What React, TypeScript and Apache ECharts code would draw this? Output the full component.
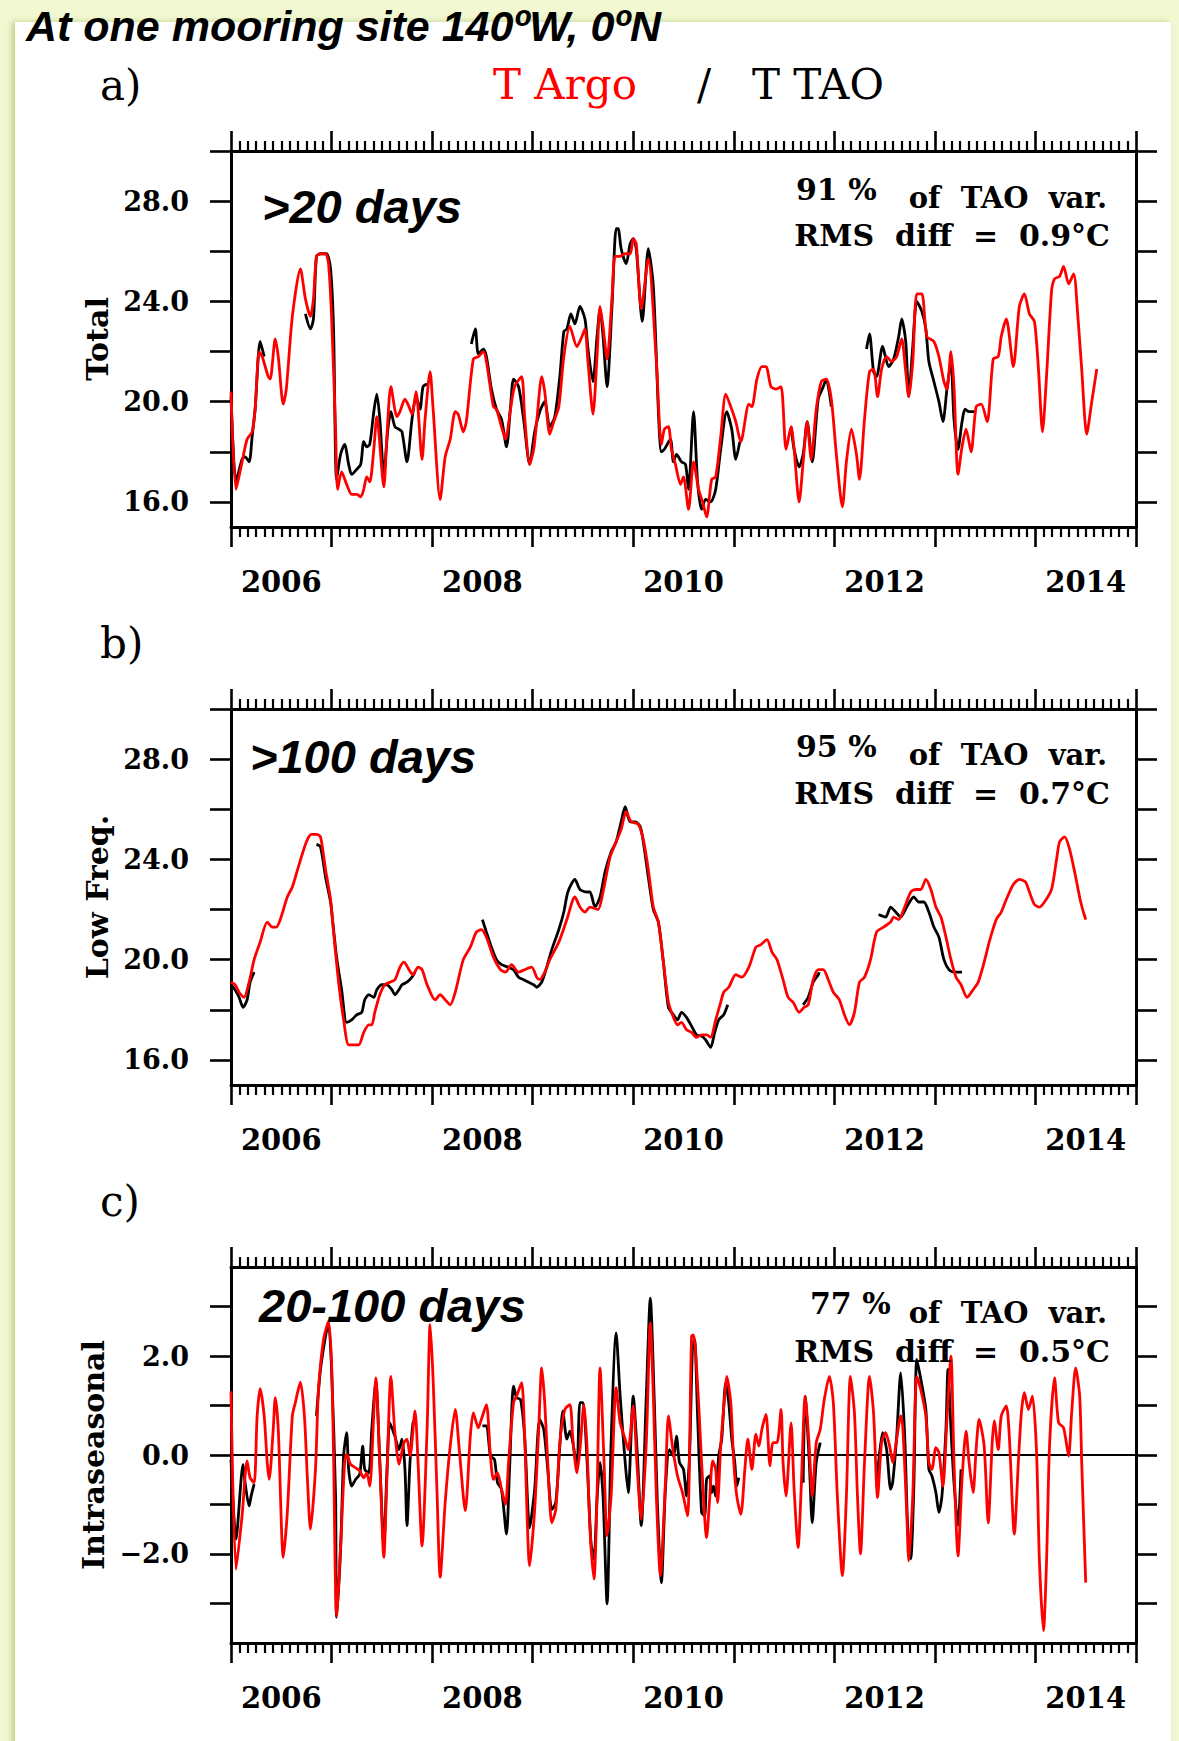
import React, { useEffect, useRef } from 'react';
import * as echarts from 'echarts';

type P = [number, number];

// ---------- axes ----------
const X_MIN = 2006;
const X_MAX = 2015;
const yearLabelAt = [2006.5, 2008.5, 2010.5, 2012.5, 2014.5];
const tempTicks = [16, 18, 20, 22, 24, 26, 28, 30];
const tempLabels = [16, 20, 24, 28];
const isoTicks = [-3, -2, -1, 0, 1, 2, 3];
const isoLabels = [-2, 0, 2];

// ---------- panel a : >20 days (Total) ----------
const argoTotal: P[] = [
  [2006.00,20.4],[2006.05,16.5],[2006.11,17.6],[2006.16,18.5],[2006.21,18.8],[2006.24,19.7],[2006.28,22.0],[2006.31,21.8],[2006.37,21.0],[2006.39,20.9],[2006.44,22.5],[2006.47,21.8],[2006.52,19.9],[2006.55,20.5],[2006.61,23.4],[2006.69,25.3],[2006.74,24.1],[2006.79,23.4],[2006.82,24.1],[2006.85,25.8],[2006.89,25.9],[2006.94,25.9],[2006.97,25.5],[2007.00,23.4],[2007.04,18.9],[2007.06,16.5],[2007.10,17.2],[2007.15,16.7],[2007.20,16.3],[2007.25,16.3],[2007.29,16.2],[2007.32,16.5],[2007.35,17.0],[2007.38,16.8],[2007.42,18.1],[2007.45,19.4],[2007.52,16.6],[2007.55,18.6],[2007.59,20.6],[2007.65,19.4],[2007.68,19.6],[2007.73,20.1],[2007.77,19.8],[2007.80,19.5],[2007.84,20.4],[2007.90,17.7],[2007.93,19.3],[2007.98,21.2],[2008.01,19.7],[2008.08,16.1],[2008.13,17.8],[2008.18,18.5],[2008.23,19.6],[2008.26,19.5],[2008.31,18.8],[2008.34,19.2],[2008.41,21.7],[2008.46,21.8],[2008.51,22.0],[2008.54,21.6],[2008.61,19.8],[2008.64,19.7],[2008.69,19.0],[2008.73,18.5],[2008.78,19.7],[2008.82,20.6],[2008.89,21.0],[2008.92,19.4],[2008.97,17.5],[2009.01,18.1],[2009.04,19.2],[2009.09,21.0],[2009.12,20.4],[2009.17,18.7],[2009.21,19.2],[2009.26,19.8],[2009.31,21.8],[2009.37,23.0],[2009.44,22.2],[2009.49,22.6],[2009.52,22.9],[2009.55,21.6],[2009.60,19.5],[2009.64,21.8],[2009.67,23.8],[2009.70,23.0],[2009.74,21.7],[2009.79,24.2],[2009.82,25.8],[2009.87,25.8],[2009.92,25.9],[2009.97,25.9],[2010.00,26.5],[2010.03,26.3],[2010.08,23.7],[2010.15,25.7],
  [2010.23,21.6],[2010.28,18.3],[2010.31,18.9],[2010.35,19.0],[2010.38,18.1],[2010.42,17.5],[2010.47,16.7],[2010.50,17.0],[2010.55,15.7],[2010.60,17.6],[2010.65,16.5],[2010.69,16.0],[2010.73,15.4],[2010.78,16.9],[2010.82,17.0],[2010.87,18.6],[2010.92,20.3],[2010.97,19.8],[2011.02,19.2],[2011.07,18.4],[2011.15,19.9],[2011.18,19.8],[2011.23,20.9],[2011.28,21.4],[2011.32,21.4],[2011.37,20.6],[2011.42,20.5],[2011.47,20.6],[2011.52,18.1],[2011.57,19.0],[2011.60,18.1],[2011.65,16.0],[2011.69,17.6],[2011.73,19.2],[2011.77,17.7],[2011.82,19.7],[2011.87,20.8],[2011.92,20.9],[2011.97,20.1],[2012.02,17.9],[2012.08,15.8],[2012.12,17.6],[2012.17,18.9],[2012.22,17.9],[2012.25,16.9],[2012.30,19.3],[2012.35,21.2],[2012.39,21.3],[2012.43,20.2],[2012.47,21.3],[2012.52,21.8],[2012.57,21.6],[2012.62,21.8],[2012.67,22.5],[2012.71,21.2],[2012.74,20.2],[2012.78,21.6],[2012.82,24.3],[2012.87,24.3],[2012.92,22.6],[2012.99,22.4],[2013.04,21.8],[2013.09,20.8],[2013.12,20.5],[2013.16,22.0],[2013.19,20.6],[2013.23,17.1],[2013.27,18.2],[2013.31,18.9],[2013.36,18.0],[2013.41,19.8],[2013.46,19.9],[2013.52,19.2],[2013.58,21.7],[2013.63,21.8],[2013.66,22.6],[2013.71,23.3],[2013.78,21.4],[2013.84,23.8],[2013.89,24.3],[2013.94,23.5],[2013.99,23.2],[2014.03,21.3],[2014.07,18.8],[2014.11,21.0],[2014.16,24.4],[2014.19,24.9],[2014.24,25.0],[2014.28,25.4],[2014.33,24.7],[2014.38,25.1],[2014.42,23.5],[2014.46,21.3],[2014.51,18.7],[2014.56,20.0],[2014.61,21.3],
];

const taoTotal: P[][] = [
  [[2006.00,20.2],[2006.05,16.8],[2006.11,17.7],[2006.14,17.8],[2006.18,17.6],[2006.21,18.6],[2006.24,19.7],[2006.29,22.4],[2006.33,21.8]],
  [[2006.74,23.5],[2006.79,22.9],[2006.82,23.3],[2006.85,25.8],[2006.89,25.9],[2006.95,25.9],[2006.99,25.3],[2007.02,22.9],[2007.05,16.9],[2007.09,17.9],[2007.13,18.3],[2007.17,17.5],[2007.20,17.1],[2007.25,17.3],[2007.29,17.5],[2007.32,18.4],[2007.35,18.2],[2007.38,18.3],[2007.42,19.6],[2007.45,20.3],[2007.48,19.3],[2007.52,17.1],[2007.56,18.9],[2007.59,19.6],[2007.63,19.0],[2007.67,18.9],[2007.70,18.8],[2007.75,17.6],[2007.80,19.3],[2007.84,20.2],[2007.88,19.7],[2007.91,20.6],[2007.95,20.7]],
  [[2008.39,22.3],[2008.43,22.9],[2008.46,21.9],[2008.51,22.1],[2008.54,21.8],[2008.59,20.5],[2008.64,19.7],[2008.69,19.3],[2008.74,18.2],[2008.78,19.8],[2008.81,20.9],[2008.86,20.6],[2008.91,19.3],[2008.97,17.5],[2009.02,18.8],[2009.07,19.6],[2009.12,20.0],[2009.17,19.0],[2009.22,19.4],[2009.27,21.0],[2009.31,22.8],[2009.34,22.9],[2009.38,23.5],[2009.42,23.1],[2009.47,23.8],[2009.52,23.3],[2009.55,22.1],[2009.60,20.8],[2009.64,22.6],[2009.67,23.7],[2009.70,22.6],[2009.74,20.6],[2009.79,23.9],[2009.83,26.9],[2009.85,26.9],[2009.88,26.1],[2009.93,25.5],[2009.97,26.3],[2010.00,26.5],[2010.03,26.1],[2010.09,23.2],[2010.15,26.1],[2010.20,24.6],[2010.28,18.0],[2010.31,18.1],[2010.37,18.5],[2010.40,17.6],[2010.43,17.9],[2010.48,17.6],[2010.52,17.5],[2010.55,16.5],[2010.60,19.6],[2010.64,16.8],[2010.68,15.7],[2010.72,16.1],[2010.77,16.0],[2010.82,16.5],[2010.87,18.1],[2010.93,19.6],[2010.98,18.9],[2011.02,17.7],[2011.06,18.4]],
  [[2011.57,19.0],[2011.60,18.1],[2011.65,17.4],[2011.69,17.9],[2011.73,19.2],[2011.78,17.6],[2011.84,20.1],[2011.89,20.6],[2011.92,20.9],[2011.97,19.8]],
  [[2012.32,22.1],[2012.35,22.7],[2012.39,21.2],[2012.42,21.0],[2012.48,22.2],[2012.54,21.4],[2012.59,21.7],[2012.64,22.6],[2012.67,23.3],[2012.71,22.4],[2012.74,20.2],[2012.78,22.2],[2012.82,24.0],[2012.87,23.6],[2012.91,22.9],[2012.94,21.6],[2012.99,20.8],[2013.04,20.0],[2013.08,19.2],[2013.12,20.5],[2013.16,21.6],[2013.19,19.3],[2013.23,18.1],[2013.27,19.2],[2013.30,19.7],[2013.34,19.6],[2013.39,19.6]],
];

// ---------- panel b : >100 days (Low Freq.) ----------
const argoLow: P[] = [
  [2006.00,19.1],[2006.04,19.0],[2006.08,18.7],[2006.13,18.5],[2006.18,19.1],[2006.23,20.0],[2006.29,20.7],[2006.36,21.5],[2006.41,21.3],[2006.45,21.3],[2006.49,21.6],[2006.56,22.5],[2006.61,22.9],[2006.67,23.7],[2006.75,24.7],[2006.80,25.0],[2006.85,25.0],[2006.89,24.9],[2006.94,23.6],[2006.99,22.4],[2007.02,21.1],[2007.07,19.1],[2007.12,17.6],[2007.17,16.6],[2007.22,16.6],[2007.27,16.6],[2007.32,17.1],[2007.37,17.4],[2007.40,17.4],[2007.43,17.9],[2007.48,18.6],[2007.53,19.0],[2007.58,19.1],[2007.63,19.2],[2007.68,19.7],[2007.72,19.9],[2007.77,19.6],[2007.81,19.4],[2007.86,19.7],[2007.90,19.6],[2007.95,19.0],[2008.03,18.4],[2008.08,18.6],[2008.13,18.4],[2008.18,18.2],[2008.23,18.7],[2008.31,20.0],[2008.38,20.5],[2008.44,21.1],[2008.49,21.2],[2008.54,20.9],[2008.61,20.1],[2008.68,19.6],[2008.73,19.5],[2008.79,19.8],[2008.86,19.5],[2008.92,19.6],[2008.99,19.7],[2009.04,19.3],[2009.07,19.2],[2009.12,19.5],[2009.17,20.0],[2009.26,20.7],[2009.34,21.6],[2009.42,22.5],[2009.47,22.1],[2009.52,21.9],[2009.57,22.1],[2009.65,22.0],[2009.70,22.7],[2009.77,24.1],[2009.83,24.7],[2009.88,25.2],[2009.93,25.9],[2009.98,25.5],[2010.05,25.4],[2010.10,24.8],[2010.15,23.6],[2010.20,22.1],
  [2010.25,21.5],[2010.30,19.9],[2010.35,18.3],[2010.40,17.7],[2010.44,17.4],[2010.48,17.5],[2010.53,17.2],[2010.58,17.1],[2010.63,16.9],[2010.68,17.0],[2010.73,17.0],[2010.77,16.9],[2010.82,17.6],[2010.87,18.3],[2010.90,18.7],[2010.95,18.9],[2011.02,19.4],[2011.08,19.3],[2011.15,19.7],[2011.22,20.5],[2011.27,20.6],[2011.33,20.8],[2011.38,20.3],[2011.43,20.0],[2011.49,19.2],[2011.54,18.5],[2011.59,18.3],[2011.65,17.9],[2011.70,18.1],[2011.74,18.2],[2011.79,19.2],[2011.84,19.6],[2011.89,19.6],[2011.94,19.2],[2011.99,18.7],[2012.05,18.4],[2012.10,17.8],[2012.15,17.4],[2012.20,17.9],[2012.25,19.1],[2012.30,19.3],[2012.36,20.0],[2012.42,21.1],[2012.49,21.3],[2012.56,21.5],[2012.59,21.7],[2012.64,21.6],[2012.69,22.0],[2012.76,22.7],[2012.81,22.8],[2012.86,22.8],[2012.91,23.2],[2012.96,22.8],[2013.01,22.1],[2013.06,21.7],[2013.11,20.9],[2013.16,20.0],[2013.21,19.3],[2013.26,19.0],[2013.32,18.5],[2013.38,18.8],[2013.43,19.1],[2013.49,19.9],[2013.54,20.7],[2013.61,21.6],[2013.66,21.9],[2013.71,22.4],[2013.78,23.0],[2013.84,23.2],[2013.90,23.1],[2013.94,22.7],[2013.99,22.2],[2014.04,22.1],[2014.09,22.3],[2014.16,22.8],[2014.21,24.0],[2014.24,24.7],[2014.29,24.9],[2014.34,24.4],[2014.40,23.3],[2014.45,22.3],[2014.50,21.6],
];

const taoLow: P[][] = [
  [[2006.00,19.0],[2006.04,18.8],[2006.08,18.5],[2006.12,18.1],[2006.16,18.4],[2006.19,19.1],[2006.23,19.5]],
  [[2006.85,24.6],[2006.89,24.5],[2006.94,23.3],[2006.99,22.3],[2007.02,21.2],[2007.05,20.1],[2007.10,18.8],[2007.15,17.5],[2007.20,17.6],[2007.25,17.8],[2007.30,17.9],[2007.33,18.4],[2007.37,18.6],[2007.42,18.5],[2007.45,18.8],[2007.50,19.0],[2007.55,19.0],[2007.60,18.8],[2007.63,18.6],[2007.67,18.8],[2007.70,19.0],[2007.75,19.1],[2007.80,19.3],[2007.83,19.5]],
  [[2008.50,21.6],[2008.54,21.1],[2008.59,20.5],[2008.64,20.0],[2008.69,19.8],[2008.76,19.7],[2008.81,19.6],[2008.86,19.3],[2008.91,19.2],[2008.96,19.1],[2009.01,19.0],[2009.04,18.9],[2009.09,19.1],[2009.14,19.7],[2009.19,20.4],[2009.26,21.2],[2009.31,21.9],[2009.35,22.7],[2009.42,23.2],[2009.47,22.8],[2009.54,22.7],[2009.57,22.7],[2009.62,22.1],[2009.67,22.5],[2009.72,23.5],[2009.78,24.3],[2009.83,24.7],[2009.88,25.5],[2009.92,26.1],[2009.97,25.5],[2010.02,25.5],[2010.07,25.3],[2010.10,24.7],[2010.15,23.3],[2010.20,22.0],[2010.25,21.5],[2010.30,19.9],[2010.35,18.1],[2010.40,17.8],[2010.44,17.6],[2010.48,17.9],[2010.53,17.7],[2010.58,17.35],[2010.63,17.0],[2010.68,16.95],[2010.72,16.8],[2010.77,16.5],[2010.81,17.1],[2010.85,17.6],[2010.90,17.8],[2010.94,18.2]],
  [[2011.69,18.2],[2011.74,18.5],[2011.79,19.1],[2011.84,19.4],[2011.85,19.5]],
  [[2012.44,21.8],[2012.51,21.7],[2012.56,22.1],[2012.61,21.9],[2012.66,21.7],[2012.72,22.1],[2012.79,22.5],[2012.84,22.3],[2012.89,22.3],[2012.94,21.9],[2012.99,21.3],[2013.04,20.9],[2013.09,20.0],[2013.14,19.6],[2013.19,19.5],[2013.24,19.5],[2013.27,19.5]],
];

// ---------- panel c : 20-100 days (Intraseasonal) ----------
const argoIso: P[] = [
  [2006.00,1.29],[2006.05,-2.31],[2006.11,-1.23],[2006.16,-0.12],[2006.19,-0.46],[2006.23,-0.56],[2006.26,0.79],[2006.29,1.34],[2006.33,0.79],[2006.36,-0.15],[2006.38,-0.49],[2006.42,0.52],[2006.44,1.16],[2006.47,0.52],[2006.52,-2.07],[2006.56,-1.16],[2006.61,0.79],[2006.64,1.06],[2006.69,1.47],[2006.73,0.79],[2006.76,-0.49],[2006.79,-1.50],[2006.84,-0.29],[2006.87,1.32],[2006.92,2.33],[2006.97,2.70],[2007.00,1.86],[2007.02,-0.02],[2007.05,-3.25],[2007.09,-1.84],[2007.13,-0.15],[2007.15,0.01],[2007.19,-0.19],[2007.24,-0.26],[2007.28,-0.32],[2007.32,-0.46],[2007.35,-0.36],[2007.38,-0.63],[2007.42,0.85],[2007.44,1.56],[2007.48,-0.15],[2007.52,-2.07],[2007.55,-0.49],[2007.59,1.59],[2007.63,0.45],[2007.67,-0.19],[2007.72,0.25],[2007.75,0.32],[2007.78,-0.02],[2007.83,0.89],[2007.86,-0.15],[2007.90,-1.84],[2007.95,0.52],[2007.98,2.64],[2008.01,1.53],[2008.05,-0.83],[2008.08,-2.47],[2008.13,-0.96],[2008.18,0.18],[2008.23,0.92],[2008.27,0.11],[2008.33,-1.13],[2008.38,0.38],[2008.41,0.85],[2008.46,0.55],[2008.49,0.72],[2008.54,1.02],[2008.58,-0.02],[2008.61,-0.49],[2008.65,-0.36],[2008.69,-0.69],[2008.73,-1.00],[2008.76,-0.15],[2008.81,1.06],[2008.84,1.19],[2008.89,1.46],[2008.92,0.38],[2008.97,-2.24],[2009.02,-1.10],[2009.06,0.52],[2009.09,1.76],[2009.12,1.06],[2009.16,-0.56],[2009.19,-1.37],[2009.23,-1.10],[2009.27,0.25],[2009.32,0.92],[2009.37,1.02],[2009.40,0.32],[2009.44,-0.36],[2009.47,0.11],[2009.51,1.02],[2009.54,0.18],[2009.57,-1.50],[2009.61,-2.51],[2009.64,-0.83],[2009.67,1.76],[2009.71,-0.15],[2009.74,-1.63],[2009.78,-0.83],[2009.83,1.36],[2009.87,0.65],[2009.92,0.32],[2009.95,0.11],[2010.00,0.99],[2010.04,-0.29],[2010.08,-1.30],[2010.13,0.25],[2010.17,2.67],[2010.20,1.19],[2010.23,-0.83],[2010.27,-2.44],[2010.32,-0.56],[2010.35,0.79],[2010.39,0.18],[2010.44,-0.42],[2010.49,-0.76],[2010.54,-1.23],[2010.58,2.40],[2010.60,2.43],
  [2010.65,1.06],[2010.68,-0.15],[2010.73,-1.67],[2010.76,-0.89],[2010.79,-0.12],[2010.82,-0.29],[2010.84,-0.96],[2010.87,0.18],[2010.91,1.19],[2010.93,1.59],[2010.97,1.06],[2011.00,-0.15],[2011.03,-0.83],[2011.07,-1.20],[2011.11,-0.29],[2011.14,0.32],[2011.18,-0.29],[2011.22,0.42],[2011.25,0.18],[2011.28,0.52],[2011.32,0.82],[2011.36,-0.22],[2011.39,0.25],[2011.43,0.25],[2011.47,0.92],[2011.49,-0.15],[2011.52,-0.83],[2011.57,0.65],[2011.60,-0.69],[2011.64,-1.87],[2011.67,-0.69],[2011.71,1.19],[2011.75,0.18],[2011.78,-0.83],[2011.82,0.25],[2011.86,0.52],[2011.90,1.12],[2011.95,1.59],[2011.99,1.06],[2012.03,-0.83],[2012.08,-2.44],[2012.12,-0.83],[2012.16,1.59],[2012.20,0.85],[2012.23,-0.83],[2012.26,-2.00],[2012.30,-0.15],[2012.35,1.59],[2012.39,0.85],[2012.43,-0.86],[2012.47,0.25],[2012.51,0.45],[2012.55,0.18],[2012.58,-0.15],[2012.62,0.32],[2012.66,0.79],[2012.68,0.59],[2012.72,-1.16],[2012.74,-2.14],[2012.78,-0.83],[2012.82,1.59],[2012.86,1.32],[2012.91,0.79],[2012.94,-0.15],[2012.97,-0.29],[2013.01,0.15],[2013.04,0.05],[2013.08,-0.63],[2013.12,0.72],[2013.16,2.00],[2013.19,-0.15],[2013.23,-2.04],[2013.27,-0.49],[2013.31,0.48],[2013.34,-0.15],[2013.38,-0.76],[2013.41,0.11],[2013.44,0.72],[2013.49,0.18],[2013.53,-1.37],[2013.57,0.25],[2013.59,0.69],[2013.63,0.11],[2013.66,0.79],[2013.71,0.99],[2013.74,0.38],[2013.79,-1.60],[2013.83,-0.15],[2013.86,0.85],[2013.89,1.26],[2013.93,0.92],[2013.97,1.19],[2014.01,0.11],[2014.04,-2.17],[2014.08,-3.55],[2014.11,-2.17],[2014.14,0.18],[2014.19,1.56],[2014.23,0.65],[2014.28,0.55],[2014.33,-0.02],[2014.36,0.85],[2014.40,1.76],[2014.44,1.19],[2014.46,-0.15],[2014.50,-2.58],
];

const taoIso: P[][] = [
  [[2006.00,-0.09],[2006.05,-1.70],[2006.12,-0.19],[2006.14,-0.56],[2006.18,-1.03],[2006.20,-0.83],[2006.23,-0.59]],
  [[2006.85,0.79],[2006.89,1.73],[2006.94,2.40],[2006.97,2.67],[2007.00,1.73],[2007.04,-0.83],[2007.05,-3.28],[2007.09,-1.90],[2007.12,-0.02],[2007.15,0.45],[2007.17,-0.29],[2007.20,-0.63],[2007.24,-0.49],[2007.28,-0.39],[2007.31,0.18],[2007.33,-0.29],[2007.37,-0.36],[2007.40,0.52],[2007.44,1.49],[2007.48,-0.15],[2007.52,-1.84],[2007.55,-0.36],[2007.58,0.65],[2007.63,0.38],[2007.67,0.11],[2007.70,0.32],[2007.73,-0.29],[2007.75,-1.43],[2007.78,-0.15],[2007.81,0.65],[2007.84,0.72]],
  [[2008.50,0.59],[2008.54,0.59],[2008.58,-0.02],[2008.62,-0.09],[2008.65,-0.56],[2008.69,-0.69],[2008.74,-1.60],[2008.77,-0.29],[2008.81,1.39],[2008.84,1.16],[2008.88,1.12],[2008.92,0.38],[2008.97,-1.47],[2009.02,-0.69],[2009.07,0.72],[2009.11,0.52],[2009.15,-0.29],[2009.19,-1.10],[2009.23,-0.96],[2009.27,0.18],[2009.30,0.89],[2009.34,0.32],[2009.37,0.48],[2009.40,0.25],[2009.44,-0.29],[2009.47,1.06],[2009.50,1.06],[2009.54,-0.09],[2009.58,-1.77],[2009.61,-2.10],[2009.64,-0.89],[2009.67,-0.15],[2009.70,-0.83],[2009.74,-3.01],[2009.78,0.25],[2009.83,2.47],[2009.87,1.19],[2009.92,-0.15],[2009.95,-0.76],[2010.00,1.19],[2010.04,0.05],[2010.08,-1.43],[2010.13,1.19],[2010.17,3.17],[2010.21,1.06],[2010.24,-0.96],[2010.28,-2.58],[2010.32,-0.69],[2010.36,0.11],[2010.40,-0.02],[2010.43,0.38],[2010.46,-0.15],[2010.50,-0.29],[2010.53,-0.83],[2010.56,-0.02],[2010.59,2.20],[2010.61,2.33],[2010.64,0.79],[2010.68,-1.16],[2010.71,-1.23],[2010.73,-0.49],[2010.76,-0.42],[2010.78,-0.76],[2010.80,-0.63],[2010.82,-0.83],[2010.85,-0.02],[2010.88,0.32],[2010.92,1.46],[2010.95,1.06],[2010.98,0.32],[2011.01,-0.15],[2011.03,-0.63],[2011.05,-0.46]],
  [[2011.69,-0.56],[2011.71,1.19],[2011.75,-0.09],[2011.78,-1.37],[2011.82,-0.15],[2011.86,0.25]],
  [[2012.42,-0.63],[2012.48,0.45],[2012.52,0.11],[2012.56,-0.69],[2012.58,-0.56],[2012.62,0.38],[2012.66,1.66],[2012.70,0.38],[2012.73,-1.50],[2012.76,-2.10],[2012.79,-0.69],[2012.82,1.93],[2012.86,1.53],[2012.91,0.92],[2012.94,-0.29],[2012.97,-0.42],[2013.01,-0.76],[2013.04,-1.16],[2013.07,-0.83],[2013.11,0.52],[2013.13,1.73],[2013.16,0.52],[2013.19,-0.56],[2013.23,-1.43],[2013.26,-0.29]],
];

// ---------- texts ----------
const titleText = 'At one mooring site 140ºW, 0ºN';
const panelLetters = ['a)', 'b)', 'c)'];
const bandNames = ['>20 days', '>100 days', '20-100 days'];
const axisNames = ['Total', 'Low Freq.', 'Intraseasonal'];
const pctOfVar = ['91 %', '95 %', '77 %'];
const rmsDiff = ['0.9', '0.7', '0.5'];

// ---------- layout / style ----------
const SERIF = '"DejaVu Serif", serif';
const SANS = '"Liberation Sans", Arial, sans-serif';
const GRID_LEFT = 231;
const GRID_WIDTH = 905;
const PANEL_TOPS = [151, 709, 1267];
const PANEL_H = 376;

function joinSegments(segs: P[][]): any[] {
  const out: any[] = [];
  segs.forEach((s, i) => {
    if (i > 0) {
      const prev = segs[i - 1][segs[i - 1].length - 1][0];
      out.push([(prev + s[0][0]) / 2, '-']);
    }
    s.forEach((p) => out.push(p));
  });
  return out;
}

const fmtNum = (v: number) => (v < 0 ? '\u2212' : '') + Math.abs(v).toFixed(1);

function xAxisCfg(gridIndex: number, position: 'top' | 'bottom') {
  return {
    type: 'value',
    gridIndex,
    position,
    min: X_MIN,
    max: X_MAX,
    interval: 1,
    axisLine: { show: true, onZero: false, lineStyle: { color: '#000', width: 3 } },
    axisTick: { show: true, length: 20, lineStyle: { color: '#000', width: 2.6 } },
    minorTick: { show: true, splitNumber: 12, length: 10, lineStyle: { color: '#000', width: 2.2 } },
    splitLine: { show: false },
    minorSplitLine: { show: false },
    axisLabel:
      position === 'bottom'
        ? {
            show: true,
            customValues: yearLabelAt,
            formatter: (v: number) => String(Math.floor(v)),
            margin: 40,
            fontFamily: SERIF,
            fontWeight: 'bold',
            fontSize: 29,
            color: '#000',
          }
        : { show: false },
  };
}

function yAxisCfg(
  gridIndex: number,
  position: 'left' | 'right',
  min: number,
  max: number,
  ticks: number[],
  labels: number[],
  name: string
) {
  return {
    type: 'value',
    gridIndex,
    position,
    min,
    max,
    axisLine: { show: true, onZero: false, lineStyle: { color: '#000', width: 3 } },
    axisTick: { show: true, length: 21, customValues: ticks, lineStyle: { color: '#000', width: 2.6 } },
    splitLine: { show: false },
    axisLabel:
      position === 'left'
        ? {
            show: true,
            customValues: labels,
            formatter: fmtNum,
            margin: 42,
            fontFamily: SERIF,
            fontWeight: 'bold',
            fontSize: 27,
            color: '#000',
          }
        : { show: false },
    name: position === 'left' ? name : '',
    nameLocation: 'middle',
    nameRotate: 90,
    nameGap: 118,
    nameTextStyle: { fontFamily: SERIF, fontWeight: 'bold', fontSize: 30, color: '#000' },
  };
}

function txt(x: number, y: number, text: string, font: string, fill = '#000', align = 'left', extra: any = {}) {
  return {
    type: 'text',
    x,
    y,
    z: 100,
    silent: true,
    style: { text, font, fill, textAlign: align, textVerticalAlign: 'middle' },
    ...extra,
  };
}

function buildOption() {
  const grids = PANEL_TOPS.map((top) => ({ left: GRID_LEFT, top, width: GRID_WIDTH, height: PANEL_H, containLabel: false }));
  const xAxes: any[] = [];
  const yAxes: any[] = [];
  const panelsY = [
    { min: 15, max: 30, ticks: tempTicks, labels: tempLabels },
    { min: 15, max: 30, ticks: tempTicks, labels: tempLabels },
    { min: -3.8, max: 3.8, ticks: isoTicks, labels: isoLabels },
  ];
  for (let i = 0; i < 3; i++) {
    xAxes.push(xAxisCfg(i, 'bottom'));
    xAxes.push(xAxisCfg(i, 'top'));
    const c = panelsY[i];
    yAxes.push(yAxisCfg(i, 'left', c.min, c.max, c.ticks, c.labels, axisNames[i]));
    yAxes.push(yAxisCfg(i, 'right', c.min, c.max, c.ticks, c.labels, ''));
  }
  const argo = [argoTotal, argoLow, argoIso];
  const tao = [taoTotal, taoLow, taoIso];
  const series: any[] = [];
  for (let i = 0; i < 3; i++) {
    series.push({
      type: 'line',
      name: 'T TAO',
      xAxisIndex: 2 * i,
      yAxisIndex: 2 * i,
      data: joinSegments(tao[i]),
      symbol: 'none',
      showSymbol: false,
      connectNulls: false,
      smooth: 0.25,
      lineStyle: { color: '#000', width: 2.8 },
      z: 3,
      silent: true,
    });
    const red: any = {
      type: 'line',
      name: 'T Argo',
      xAxisIndex: 2 * i,
      yAxisIndex: 2 * i,
      data: argo[i],
      symbol: 'none',
      showSymbol: false,
      smooth: 0.25,
      lineStyle: { color: '#ff0000', width: 2.8 },
      z: 4,
      silent: true,
    };
    if (i === 2) {
      red.markLine = {
        silent: true,
        symbol: 'none',
        label: { show: false },
        lineStyle: { color: '#000', width: 2.2, type: 'solid' },
        data: [{ yAxis: 0 }],
        z: 2,
      };
    }
    series.push(red);
  }

  const letterBase = [100, 658, 1216];
  const bandPos = [
    [262, 223],
    [250, 773],
    [259, 1322],
  ];
  const pctPos = [
    [796, 200, 207.6, 246],
    [796, 756.8, 764.9, 804],
    [810, 1314, 1322.8, 1361.6],
  ];
  const graphics: any[] = [
    txt(26, 40.5 - 14.8, titleText, `italic bold 43px ${SANS}`),
    txt(493, 99 - 14.5, 'T Argo', `normal 42px ${SERIF}`, '#ff0000'),
    txt(697, 99 - 14.5, '/', `normal 42px ${SERIF}`),
    txt(752, 99 - 14.5, 'T TAO', `normal 42px ${SERIF}`),
  ];
  for (let i = 0; i < 3; i++) {
    graphics.push(txt(100, letterBase[i] - 15, panelLetters[i], `normal 42px ${SERIF}`));
    graphics.push(txt(bandPos[i][0], bandPos[i][1] - 16.3, bandNames[i], `italic bold 47px ${SANS}`));
    const p = pctPos[i];
    graphics.push(txt(p[0], p[1] - 10.4, pctOfVar[i], `bold 30px ${SERIF}`));
    graphics.push(txt(1107, p[2] - 10, 'of  TAO  var.', `bold 29px ${SERIF}`, '#000', 'right'));
    graphics.push(txt(1110, p[3] - 10.4, `RMS  diff  =  ${rmsDiff[i]}°C`, `bold 30px ${SERIF}`, '#000', 'right'));
  }

  return {
    animation: false,
    backgroundColor: 'transparent',
    grid: grids,
    xAxis: xAxes,
    yAxis: yAxes,
    series,
    graphic: { elements: graphics },
  };
}

export default function App() {
  const ref = useRef<HTMLDivElement>(null);
  useEffect(() => {
    document.body.style.margin = '0';
    if (!ref.current) return;
    const chart = echarts.init(ref.current, null, { renderer: 'svg' });
    chart.setOption(buildOption() as any);
    return () => chart.dispose();
  }, []);
  return (
    <div style={{ position: 'relative', width: 1179, height: 1741, background: '#f2f9d2', overflow: 'hidden' }}>
      <div
        style={{
          position: 'absolute',
          left: 15,
          top: 22,
          width: 1156,
          height: 1760,
          background: '#ffffff',
          boxShadow: '-3px 0 6px rgba(150,170,80,0.55)',
        }}
      />
      <div ref={ref} style={{ position: 'absolute', left: 0, top: 0, width: 1179, height: 1741 }} />
    </div>
  );
}
